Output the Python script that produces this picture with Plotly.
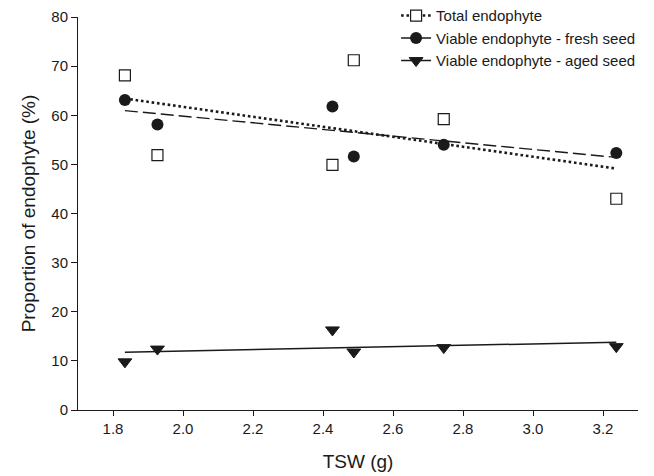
import numpy as np
import plotly.graph_objects as go

# Thousand-seed weight of each seed lot (g)
tsw = [1.834, 1.927, 2.427, 2.488, 2.745, 3.238]

# Proportion of seeds carrying endophyte (%)
total_endophyte = [68.1, 51.9, 49.9, 71.2, 59.2, 43.0]
viable_fresh = [63.1, 58.1, 61.8, 51.6, 54.0, 52.3]
viable_aged = [9.8, 12.4, 16.3, 11.8, 12.7, 12.9]

x_ticks = [1.8, 2.0, 2.2, 2.4, 2.6, 2.8, 3.0, 3.2]
y_ticks = [0, 10, 20, 30, 40, 50, 60, 70, 80]

FONT = "Liberation Sans, Arial, sans-serif"
INK = "#1a1a1a"

series = [
    dict(name="Total endophyte", y=total_endophyte,
         marker=dict(symbol="square", size=11, color="white",
                     line=dict(color=INK, width=1.2)),
         line=dict(color=INK, width=2.6, dash="2.6px,2.8px")),
    dict(name="Viable endophyte - fresh seed", y=viable_fresh,
         marker=dict(symbol="circle", size=12, color=INK,
                     line=dict(color=INK, width=0)),
         line=dict(color=INK, width=1.4, dash="13px,5px")),
    dict(name="Viable endophyte - aged seed", y=viable_aged,
         marker=dict(symbol="triangle-down", size=12, color=INK,
                     line=dict(color=INK, width=1)),
         line=dict(color=INK, width=1.5)),
]

fig = go.Figure()
xs = np.array(tsw)
x_fit = np.array([xs.min(), xs.max()])

for s in series:
    # least-squares regression line through the observations
    slope, intercept = np.polyfit(xs, np.array(s["y"]), 1)
    fig.add_trace(go.Scatter(
        x=x_fit, y=slope * x_fit + intercept, mode="lines",
        line=s["line"], showlegend=False, hoverinfo="skip"))

for s in series:
    fig.add_trace(go.Scatter(
        x=tsw, y=s["y"], mode="markers", marker=s["marker"],
        showlegend=False, name=s["name"]))

# legend entries showing line style together with the symbol
for s in series:
    fig.add_trace(go.Scatter(
        x=[None], y=[None], mode="lines+markers", name=s["name"],
        marker=s["marker"], line=s["line"]))

fig.update_layout(
    width=654, height=476,
    margin=dict(l=78, r=16, t=17, b=66, autoexpand=False),
    paper_bgcolor="white", plot_bgcolor="white",
    font=dict(family=FONT, size=15, color=INK),
    legend=dict(
        x=0.568, y=1.045, xanchor="left", yanchor="top",
        bgcolor="rgba(0,0,0,0)", font=dict(size=15, color=INK),
        itemwidth=30, tracegroupgap=0,
    ),
    xaxis=dict(
        range=[1.7, 3.3], tickvals=x_ticks,
        ticktext=[f"{v:.1f}" for v in x_ticks],
        showline=True, linecolor=INK, linewidth=1,
        ticks="outside", ticklen=5, tickcolor=INK, tickwidth=1,
        showgrid=False, zeroline=False,
        title=dict(text="TSW (g)", font=dict(size=19), standoff=18),
        tickfont=dict(size=15),
    ),
    yaxis=dict(
        range=[0, 80], tickvals=y_ticks,
        showline=True, linecolor=INK, linewidth=1,
        ticks="outside", ticklen=6, tickcolor=INK, tickwidth=1,
        showgrid=False, zeroline=False,
        title=dict(text="Proportion of endophyte (%)", font=dict(size=19),
                   standoff=10),
        tickfont=dict(size=15),
    ),
)

fig.write_html("out.html")
